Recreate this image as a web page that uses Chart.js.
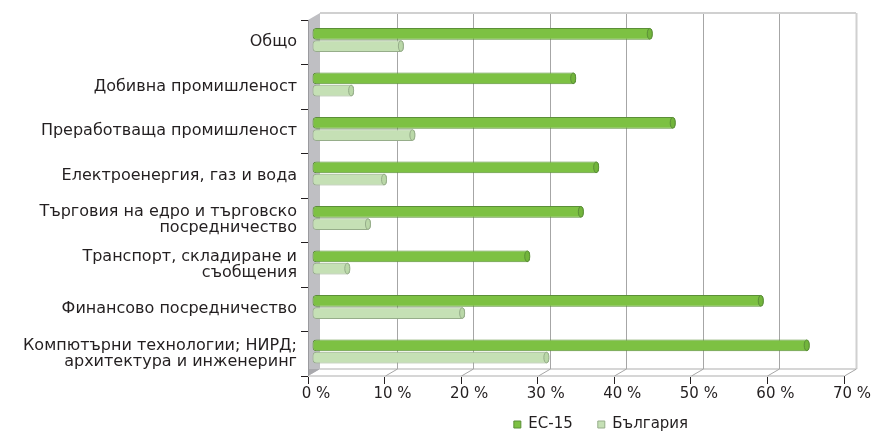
<!DOCTYPE html>
<html lang="bg">
<head>
<meta charset="utf-8">
<title>ЕС-15 и България</title>
<script src="https://cdn.jsdelivr.net/npm/chart.js@4.4.1/dist/chart.umd.min.js"></script>
<style>
  html, body { margin: 0; padding: 0; background: #fff; }
  #wrap { width: 886px; height: 433px; }
</style>
</head>
<body>
<div id="wrap"><canvas id="chart" width="886" height="433"></canvas></div>
<script>
/************************************************************
    Horizontal grouped bars, drawn with a light 3D frame
*************************************************************/

var categories = [
  "Общо",
  "Добивна промишленост",
  "Преработваща промишленост",
  "Електроенергия, газ и вода",
  ["Търговия на едро и търговско", "посредничество"],
  ["Транспорт, складиране и", "съобщения"],
  "Финансово посредничество",
  ["Компютърни технологии; НИРД;", "архитектура и инженеринг"]
];
var eu15 = [44.5, 34.5, 47.5, 37.5, 35.5, 28.5, 59, 65];
var bulgaria = [12, 5.5, 13.5, 9.8, 7.7, 5, 20, 31];
var xTicks = [0, 10, 20, 30, 40, 50, 60, 70];

var TEXT = '#231f20';
var DX = 12, DY = 7;   // depth of the fake 3D box

function line(ctx, x1, y1, x2, y2) {
  ctx.beginPath();
  ctx.moveTo(x1, y1);
  ctx.lineTo(x2, y2);
  ctx.stroke();
}

// back wall, floor and side wall, then shift bars a bit into the depth
var frame3d = {
  id: 'frame3d',
  afterLayout: function (chart) {
    // legend sits closer to the axis and under the plot, like the original
    var lg = chart.legend;
    lg.top -= 12;
    lg.left += 25; lg.right += 25;
  },
  beforeDatasetsDraw: function (chart) {
    var ctx = chart.ctx, a = chart.chartArea, xs = chart.scales.x;
    var x0 = xs.getPixelForValue(xTicks[0]);
    var x1 = xs.getPixelForValue(xTicks[xTicks.length - 1]);
    ctx.save();

    // floor edges
    ctx.lineWidth = 2;
    ctx.strokeStyle = '#d6d6d6';
    line(ctx, x0 + DX, a.bottom - DY, x1 + DX, a.bottom - DY);
    line(ctx, x0, a.bottom, x1, a.bottom);

    xTicks.forEach(function (v, i) {
      if (i === 0) return;
      var px = Math.round(xs.getPixelForValue(v) + DX) + 0.5;
      var last = i === xTicks.length - 1;
      ctx.strokeStyle = last ? '#d0d0d0' : '#a6a6a6';
      ctx.lineWidth = last ? 2 : 1;
      line(ctx, px, a.top - DY, px, a.bottom - DY);
      ctx.strokeStyle = '#a6a6a6';
      ctx.lineWidth = 1;
      line(ctx, px, a.bottom - DY, px - DX, a.bottom);
    });

    // top edge of back wall
    ctx.strokeStyle = '#d0d0d0';
    ctx.lineWidth = 2;
    line(ctx, x0 + DX, a.top - DY, x1 + DX, a.top - DY);

    // left side wall
    ctx.fillStyle = '#bfbfc3';
    ctx.beginPath();
    ctx.moveTo(x0, a.top);
    ctx.lineTo(x0 + DX, a.top - DY);
    ctx.lineTo(x0 + DX, a.bottom - DY);
    ctx.lineTo(x0, a.bottom);
    ctx.closePath();
    ctx.fill();
    ctx.fillStyle = '#a9a9ad';
    ctx.beginPath();
    ctx.moveTo(x0, a.bottom - DY);
    ctx.lineTo(x0 + DX, a.bottom - DY);
    ctx.lineTo(x0, a.bottom);
    ctx.closePath();
    ctx.fill();
    ctx.strokeStyle = '#9a9a9e';
    ctx.lineWidth = 1;
    line(ctx, x0 + 0.5, a.top, x0 + 0.5, a.bottom);
    ctx.restore();

    ctx.save();
    ctx.translate(DX / 3, -DY / 3);
  },
  afterDatasetsDraw: function (chart) {
    var ctx = chart.ctx;
    // round end caps of the cylinders
    chart.data.datasets.forEach(function (ds, i) {
      chart.getDatasetMeta(i).data.forEach(function (bar) {
        var p = bar.getProps(['x', 'y', 'height'], true);
        var r = p.height / 2 - 0.5;
        ctx.beginPath();
        ctx.ellipse(p.x - 3, p.y, 2.5, r, 0, 0, Math.PI * 2);
        ctx.fillStyle = ds.capColor;
        ctx.fill();
        ctx.strokeStyle = ds.borderColor;
        ctx.lineWidth = 1;
        ctx.stroke();
      });
    });
    ctx.restore();
  }
};

new Chart(document.getElementById('chart'), {
  type: 'bar',
  data: {
    labels: categories,
    datasets: [
      {
        label: 'ЕС-15',
        data: eu15,
        backgroundColor: '#7dc143',
        borderColor: '#5b8f38',
        capColor: '#72b53b',
        borderWidth: 1,
        borderRadius: 4,
        borderSkipped: false
      },
      {
        label: 'България',
        data: bulgaria,
        backgroundColor: '#c5e0b5',
        borderColor: '#96ad8a',
        capColor: '#bad8a8',
        borderWidth: 1,
        borderRadius: 4,
        borderSkipped: false
      }
    ]
  },
  options: {
    indexAxis: 'y',
    responsive: false,
    animation: false,
    categoryPercentage: 0.55,
    barPercentage: 0.96,
    layout: { padding: { top: 19, right: 42, left: 0, bottom: 0 } },
    scales: {
      x: {
        min: 0,
        max: 70,
        afterBuildTicks: function (s) {
          s.ticks = xTicks.map(function (v) { return { value: v }; });
        },
        grid: { display: true, drawOnChartArea: false, drawTicks: true, tickLength: 8, color: TEXT },
        border: { display: false },
        ticks: {
          padding: 1,
          labelOffset: 8,
          maxRotation: 0,
          autoSkip: false,
          color: TEXT,
          font: { family: 'DejaVu Sans', size: 15 },
          callback: function (v) { return v + ' %'; }
        }
      },
      y: {
        afterFit: function (s) { s.width = 308; },
        grid: { display: true, offset: true, drawOnChartArea: false, drawTicks: true, tickLength: 7, color: TEXT },
        border: { display: false },
        ticks: {
          padding: 4,
          color: TEXT,
          font: { family: 'DejaVu Sans', size: 16, lineHeight: 1.0 }
        }
      }
    },
    plugins: {
      tooltip: { enabled: false },
      legend: {
        position: 'bottom',
        fullSize: false,
        maxHeight: 29,
        labels: {
          boxWidth: 7,
          boxHeight: 7,
          padding: 25,
          color: TEXT,
          font: { family: 'DejaVu Sans', size: 15 }
        }
      }
    }
  },
  plugins: [frame3d]
});
</script>
</body>
</html>
